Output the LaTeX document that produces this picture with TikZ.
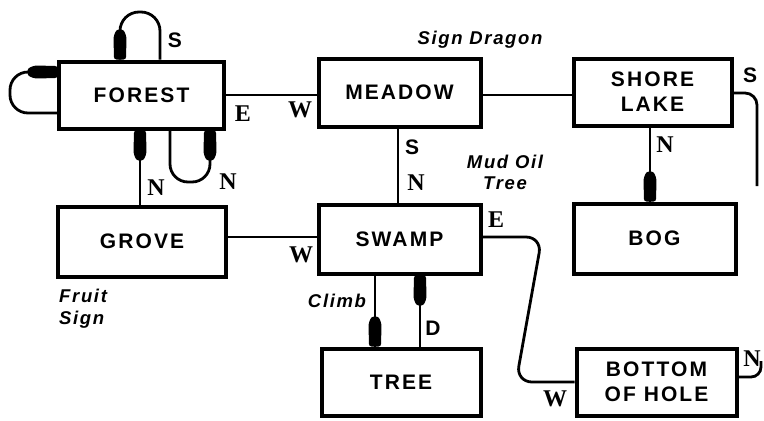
\documentclass[tikz,border=0pt]{standalone}
\usepackage{fontspec}
\setmainfont{Liberation Sans}
\newfontfamily\boxfont[LetterSpace=10]{Liberation Sans}
\newfontfamily\serifdir{Liberation Serif}
\newfontfamily\itlab[LetterSpace=9]{Liberation Sans}
\usetikzlibrary{decorations.markings}
\begin{document}
\begin{tikzpicture}[x=1bp,y=-1bp,
  room/.style={draw,line width=4bp,inner sep=0pt,align=center,
    font={\boxfont\bfseries\fontsize{21bp}{25bp}\selectfont}},
  link/.style={line width=2.8bp},
  tack/.style={postaction={decorate,decoration={markings,
    mark=at position 1 with {\fill[rounded corners=2.5bp]
      (-30bp,-3.5bp) -- (-23bp,-6.5bp) -- (0bp,-6bp) -- (0bp,6bp)
      -- (-23bp,6.5bp) -- (-30bp,3.5bp) -- cycle;}}}},
  dirs/.style={inner sep=0pt,font={\bfseries\fontsize{21bp}{24bp}\selectfont}},
  dirr/.style={inner sep=0pt,font={\serifdir\bfseries\fontsize{24bp}{26bp}\selectfont}},
  itl/.style={inner sep=0pt,font={\itlab\bfseries\itshape\fontsize{18.5bp}{24bp}\selectfont}}
]
\useasboundingbox (0,0) rectangle (764,420);

% rooms
\node[room,minimum width=164bp,minimum height=67bp] (forest) at (141.5,95) {FOREST};
\node[room,minimum width=162bp,minimum height=68bp] (meadow) at (399.5,92.5) {MEADOW};
\node[room,minimum width=158bp,minimum height=67bp] (shore) at (652.5,92) {SHORE\\LAKE};
\node[room,minimum width=167bp,minimum height=70bp] (grove) at (142,241.5) {GROVE};
\node[room,minimum width=162bp,minimum height=69bp] (swamp) at (399.5,239) {SWAMP};
\node[room,minimum width=162bp,minimum height=70bp] (bog) at (654.5,238.5) {BOG};
\node[room,minimum width=159bp,minimum height=67bp] (tree) at (401,382) {TREE};
\node[room,minimum width=160bp,minimum height=67bp] (hole) at (656.5,382) {BOTTOM\\OF HOLE};

% helper coordinates
\coordinate (gx) at (140,0);
\coordinate (lx1) at (170,0);
\coordinate (lx2) at (210,0);
\coordinate (sx1) at (120,0);
\coordinate (sx2) at (160,0);
\coordinate (mx) at (398,0);
\coordinate (bx) at (650,0);
\coordinate (cx) at (375,0);
\coordinate (dx) at (420,0);
\coordinate (ly1) at (0,72);
\coordinate (ly2) at (0,113);
\coordinate (gy) at (0,237);
\coordinate (sy) at (0,93);
\coordinate (hny) at (0,377);
\coordinate (se) at (757,186);
\coordinate (hn) at (761,361);

% connectors
\draw[link] (forest.east) -- (forest.east -| meadow.west);
\draw[link] (meadow.east |- forest.east) -- (forest.east -| shore.west);
\draw[link,tack,rounded corners=18bp] (forest.west |- ly2) -- (10,113) -- (10,72) -- (forest.west |- ly1);
\draw[link,tack,rounded corners=19bp] (forest.north -| sx2) -- (160,12) -- (120,12) -- (forest.north -| sx1);
\draw[link,tack,rounded corners=18bp] (forest.south -| lx1) -- (170,182) -- (210,182) -- (forest.south -| lx2);
\draw[link,tack] (grove.north -| gx) -- (forest.south -| gx);
\draw[link] (meadow.south -| mx) -- (swamp.north -| mx);
\draw[link] (grove.east |- gy) -- (swamp.west |- gy);
\draw[link,rounded corners=16bp] (swamp.east |- gy) -- (542,237) -- (516,382) -- (hole.west);
\draw[link,tack] (shore.south -| bx) -- (bog.north -| bx);
\draw[link,rounded corners=12bp] (shore.east |- sy) -- (757,93) -- (se);
\draw[link,rounded corners=10bp] (hole.east |- hny) -- (761,377) -- (hn);
\draw[link,tack] (swamp.south -| cx) -- (tree.north -| cx);
\draw[link,tack] (tree.north -| dx) -- (swamp.south -| dx);

% labels
\node[dirs] (l1) at (175,40) {S};
\node[dirr] (l2) at (243,114) {E};
\node[dirr] (l3) at (300,110) {W};
\node[itl] (l4) at (480,40) {Sign Dragon};
\node[dirs] (l5) at (412,147) {S};
\node[dirr] (l6) at (416,183) {N};
\node[itl,align=center] (l7) at (505,172) {Mud Oil\\[-3bp]Tree};
\node[dirs] (l8) at (750,75) {S};
\node[dirr] (l9) at (665,145) {N};
\node[dirr] (l10) at (156,188) {N};
\node[dirr] (l11) at (228,182) {N};
\node[dirr] (l12) at (301,255) {W};
\node[dirr] (l13) at (496,220) {E};
\node[itl,align=left,anchor=north west] (l14) at (59,289) {Fruit\\[-2bp]Sign};
\node[itl] (l15) at (337,301) {Climb};
\node[dirs] (l16) at (433,328) {D};
\node[dirr] (l17) at (555,399) {W};
\node[dirr] (l18) at (752,359) {N};
\end{tikzpicture}
\end{document}
